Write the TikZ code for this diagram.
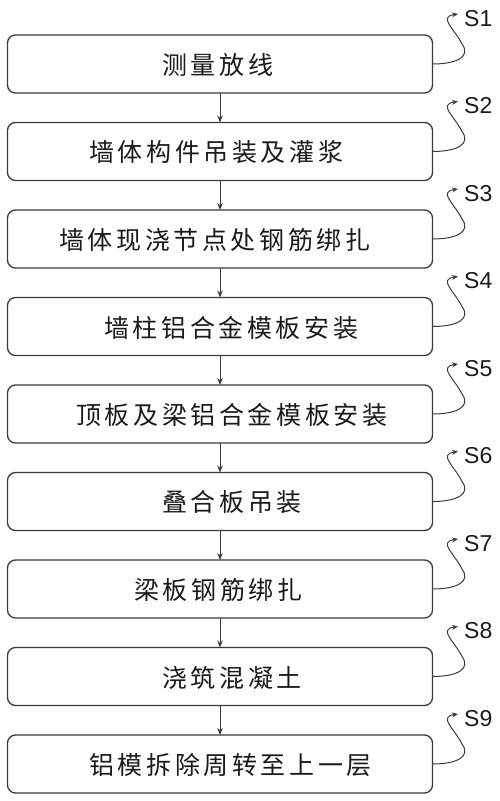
\documentclass[tikz,border=0pt]{standalone}
\usepackage{fontspec}
\setmainfont{Liberation Sans}
\newfontfamily\cjk[LetterSpace=14.5]{Noto Sans CJK SC}
\usetikzlibrary{arrows.meta}
\definecolor{linegray}{HTML}{3A3A3A}
\definecolor{textblack}{HTML}{1A1A1A}
\begin{document}
\begin{tikzpicture}[x=1pt,y=-1pt,
  stepbox/.style={draw=linegray,line width=1.3pt,rounded corners=8pt,minimum width=425pt,minimum height=58pt,inner sep=0pt,outer sep=0pt},
  steptext/.style={anchor=west,inner sep=0pt,font=\cjk\fontsize{25}{25}\selectfont,text=textblack},
  slabel/.style={anchor=west,inner sep=0pt,font=\fontsize{23}{23}\selectfont,text=textblack},
  flow/.style={draw=linegray,line width=1pt,-{Stealth[length=7pt,width=5.5pt]}},
  squig/.style={draw=linegray,line width=1pt,-{Stealth[length=6pt,width=5pt]}}]
\useasboundingbox (0,0) rectangle (500,801);
\foreach \i/\t/\lx in {1/测量放线/163,2/墙体构件吊装及灌浆/90,3/墙体现浇节点处钢筋绑扎/60,4/墙柱铝合金模板安装/105,5/顶板及梁铝合金模板安装/77,6/叠合板吊装/163,7/梁板钢筋绑扎/135,8/浇筑混凝土/163,9/铝模拆除周转至上一层/90}{
  \pgfmathsetmacro{\cy}{64+(\i-1)*87.5}
  \node[stepbox] (b\i) at (220,\cy) {};
  \node[steptext] (t\i) at (\lx-1,\cy+1) {\t};
  \node[slabel] (s\i) at (464,\cy-45.5) {S\i};
  \coordinate (m\i) at (462,\cy-20);
  \coordinate (e\i) at (458,\cy-50);
  \draw[squig] (b\i.east) .. controls (458,\cy) and (471,\cy-8) .. (m\i)
     .. controls (454,\cy-36) and (438,\cy-47) .. (e\i);
}
\foreach \i [evaluate=\i as \j using int(\i+1)] in {1,...,8}{
  \draw[flow] (b\i.south) -- (b\j.north);
}
\end{tikzpicture}
\end{document}
